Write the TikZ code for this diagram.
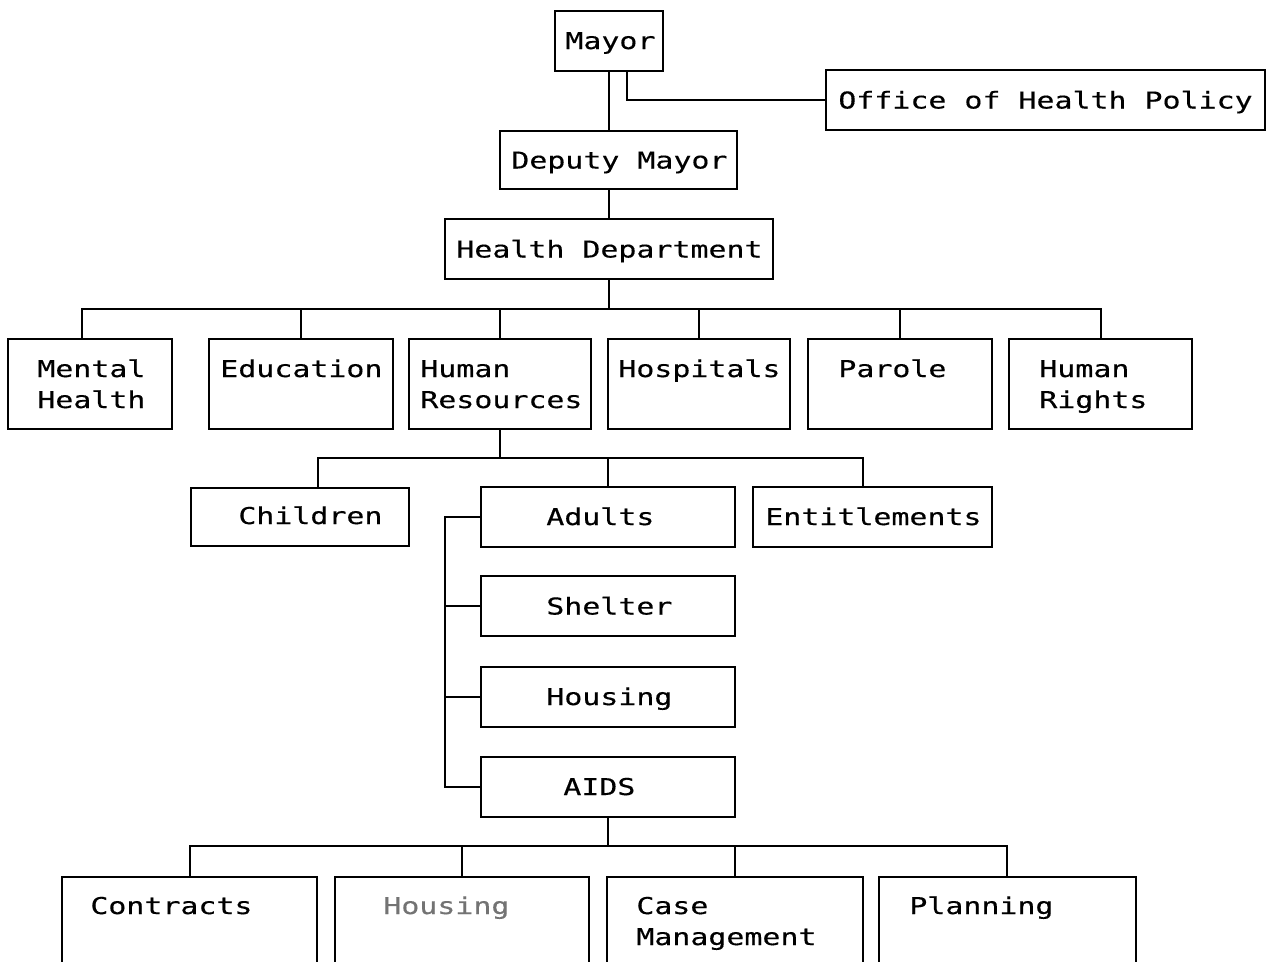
\documentclass[tikz,border=0pt]{standalone}
\usepackage{fontspec}
\newfontfamily\monofam[FakeStretch=1.29,FakeBold=0.35]{DejaVu Sans Mono}
\tikzset{
  box/.style={draw, line width=1.1pt, inner sep=0pt, rectangle},
  lbl/.style={font=\monofam\fontsize{13.2}{17.6}\selectfont, inner sep=0pt, anchor=base west},
  link/.style={line width=1.1pt},
}
\newcommand\bx[5]{\node[box, minimum width={(#4-#2)*0.02cm}, minimum height={(#5-#3)*0.02cm}] (#1) at ({(#2+#4)/2},{(#3+#5)/2}) {};}
\begin{document}
\begin{tikzpicture}[x=0.02cm,y=-0.02cm]
\useasboundingbox (0,0) rectangle (1266,961);
\clip (0,0) rectangle (1266,961);
% boxes
\bx{mayor}{555}{11}{663}{71}
\bx{office}{826}{70}{1265}{130}
\bx{deputy}{500}{131}{737}{189}
\bx{health}{445}{219}{773}{279}
\bx{mh}{8}{339}{172}{429}
\bx{edu}{209}{339}{393}{429}
\bx{hr}{409}{339}{591}{429}
\bx{hosp}{608}{339}{790}{429}
\bx{parole}{808}{339}{992}{429}
\bx{hrt}{1009}{339}{1192}{429}
\bx{child}{191}{488}{409}{546}
\bx{adults}{481}{487}{735}{547}
\bx{ent}{753}{487}{992}{547}
\bx{shelter}{481}{576}{735}{636}
\bx{housing}{481}{667}{735}{727}
\bx{aids}{481}{757}{735}{817}
\bx{contr}{62}{877}{317}{1000}
\bx{houstwo}{335}{877}{589}{1000}
\bx{case}{607}{877}{863}{1000}
\bx{plan}{879}{877}{1136}{1000}
% labels
\node[lbl] (tmayor) at (565,49) {Mayor};
\node[lbl] (toffice) at (838,108.5) {Office of Health Policy};
\node[lbl] (tdeputy) at (511,168.5) {Deputy Mayor};
\node[lbl] (thealth) at (456,257.5) {Health Department};
\node[lbl] (tmha) at (37,377) {Mental};
\node[lbl] (tmhb) at (37,408) {Health};
\node[lbl] (tedu) at (220,377) {Education};
\node[lbl] (thra) at (420,377) {Human};
\node[lbl] (thrb) at (420,408) {Resources};
\node[lbl] (thosp) at (618,377) {Hospitals};
\node[lbl] (tparole) at (838,377) {Parole};
\node[lbl] (thrta) at (1039,377) {Human};
\node[lbl] (thrtb) at (1039,408) {Rights};
\node[lbl] (tchild) at (238,524) {Children};
\node[lbl] (tadults) at (546,525) {Adults};
\node[lbl] (tent) at (765,525) {Entitlements};
\node[lbl] (tshelter) at (546,614.5) {Shelter};
\node[lbl] (thousing) at (546,705) {Housing};
\node[lbl] (taids) at (563,795) {AIDS};
\node[lbl] (tcontr) at (90,914) {Contracts};
\node[lbl, text=black!55] (thoustwo) at (383,914) {Housing};
\node[lbl] (tcasea) at (636,914) {Case};
\node[lbl] (tcaseb) at (636,945) {Management};
\node[lbl] (tplan) at (909,914) {Planning};
% connectors
\draw[link] (mayor.south) -- (mayor.south |- deputy.north);
\draw[link] ([xshift=0.36cm]mayor.south) |- (office.west);
\draw[link] (health.north |- deputy.south) -- (health.north);
\coordinate (bAL) at (82,309);
\coordinate (bAR) at (1101,309);
\draw[link] (health.south) -- (health.south |- bAL);
\draw[link] (bAL |- mh.north) -- (bAL) -- (bAR) -- (bAR |- hrt.north);
\foreach \n in {edu,hr,hosp,parole} \draw[link] (\n.north) -- (\n.north |- bAL);
\coordinate (bBL) at (318,458);
\coordinate (bBR) at (863,458);
\draw[link] (hr.south) -- (hr.south |- bBL);
\draw[link] (bBL |- child.north) -- (bBL) -- (bBR) -- (bBR |- ent.north);
\draw[link] (adults.north) -- (adults.north |- bBL);
\coordinate (sp) at (445,517);
\draw[link] (adults.west) -- (adults.west -| sp) -- (sp |- aids.west) -- (aids.west);
\draw[link] (shelter.west) -- (shelter.west -| sp);
\draw[link] (housing.west) -- (housing.west -| sp);
\coordinate (bCL) at (190,846);
\coordinate (bCR) at (1007,846);
\draw[link] (aids.south) -- (aids.south |- bCL);
\draw[link] (bCL |- contr.north) -- (bCL) -- (bCR) -- (bCR |- plan.north);
\foreach \n in {houstwo,case} \draw[link] (\n.north) -- (\n.north |- bCL);
\end{tikzpicture}
\end{document}
